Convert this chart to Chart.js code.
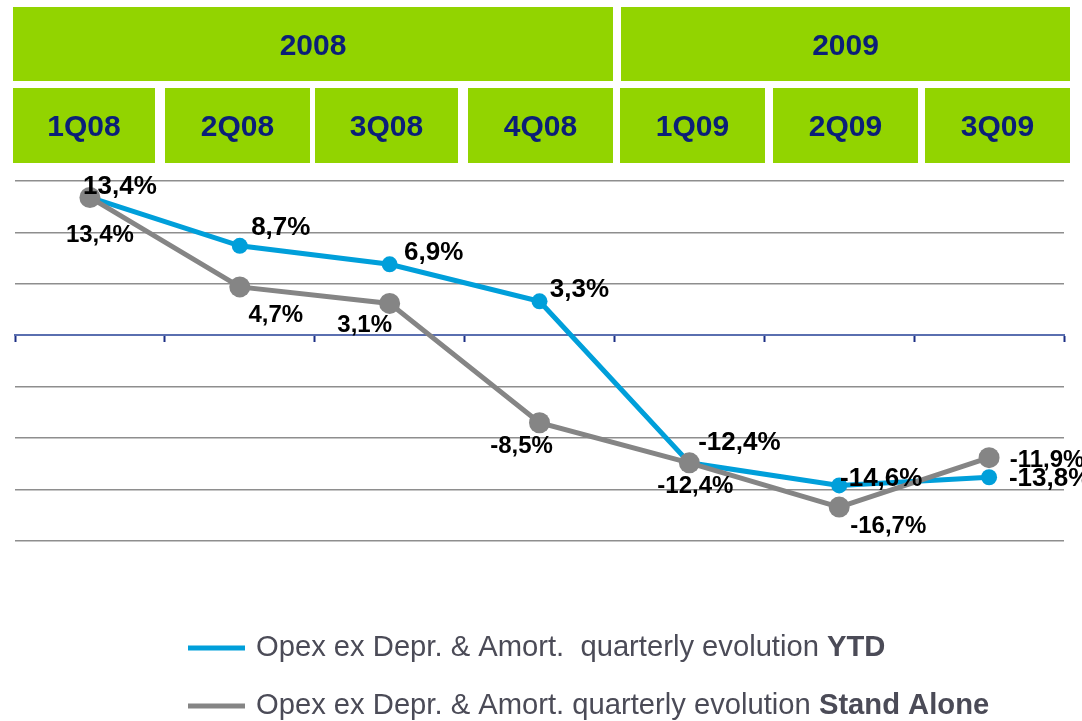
<!DOCTYPE html>
<html>
<head>
<meta charset="utf-8">
<script src="https://cdn.jsdelivr.net/npm/chart.js@4/dist/chart.umd.min.js"></script>
<style>
  html, body { margin: 0; padding: 0; background: #ffffff; }
  #wrap { width: 1082px; height: 721px; position: relative; }
</style>
</head>
<body>
<div id="wrap"><canvas id="c" width="1082" height="721"></canvas></div>
<script>
// ---- Data ----
const categories = ['1Q08', '2Q08', '3Q08', '4Q08', '1Q09', '2Q09', '3Q09'];
const years = ['2008', '2009'];
const ytdValues = [13.4, 8.7, 6.9, 3.3, -12.4, -14.6, -13.8];
const standAloneValues = [13.4, 4.7, 3.1, -8.5, -12.4, -16.7, -11.9];
const yMin = -20;
const yMax = 15;
const yStep = 5;
const legendYTD = [['Opex ex Depr. & Amort.  quarterly evolution ', false], ['YTD', true]];
const legendSA = [['Opex ex Depr. & Amort. quarterly evolution ', false], ['Stand Alone', true]];

// ---- Layout / style (not data) ----
const GREEN = '#92d400';
const NAVY = '#0b1f78';
const BLUE = '#009fda';
const GREY = '#858585';
const yearBoxes = [[13, 613], [621, 1070]];          // x left/right
const quarterBoxes = [[13, 155], [165, 310], [315, 458], [468, 613], [620, 765], [773, 918], [925, 1070]];
const ytdLabelOffsets = [[30, -11], [41, -18], [44, -11], [40, -12], [50, -20], [42, -7], [61, 2]];
const saLabelOffsets = [[10, 38], [36, 28], [-25, 22], [-18, 24], [6, 24], [49, 19], [58, 3]];

const fmt = v => v.toFixed(1).replace('.', ',') + '%';

const decorPlugin = {
  id: 'decor',
  beforeDraw(chart) {
    const ctx = chart.ctx;
    ctx.save();
    ctx.fillStyle = GREEN;
    yearBoxes.forEach(b => ctx.fillRect(b[0], 7, b[1] - b[0], 74));
    quarterBoxes.forEach(b => ctx.fillRect(b[0], 88, b[1] - b[0], 75));
    ctx.fillStyle = NAVY;
    ctx.font = 'bold 30px "Liberation Sans", Arial, sans-serif';
    ctx.textAlign = 'center';
    ctx.textBaseline = 'middle';
    years.forEach((y, i) => ctx.fillText(y, (yearBoxes[i][0] + yearBoxes[i][1]) / 2, 46.5));
    categories.forEach((q, i) => ctx.fillText(q, (quarterBoxes[i][0] + quarterBoxes[i][1]) / 2, 128));
    ctx.restore();
  },
  afterDatasetsDraw(chart) {
    const ctx = chart.ctx;
    ctx.save();
    ctx.fillStyle = '#000000';
    ctx.textAlign = 'center';
    ctx.textBaseline = 'middle';
    const metaYTD = chart.getDatasetMeta(0);
    const metaSA = chart.getDatasetMeta(1);
    ctx.font = 'bold 24px "Liberation Sans", Arial, sans-serif';
    metaSA.data.forEach((pt, i) => {
      ctx.fillText(fmt(standAloneValues[i]), pt.x + saLabelOffsets[i][0], pt.y + saLabelOffsets[i][1]);
    });
    ctx.font = 'bold 26px "Liberation Sans", Arial, sans-serif';
    metaYTD.data.forEach((pt, i) => {
      ctx.fillText(fmt(ytdValues[i]), pt.x + ytdLabelOffsets[i][0], pt.y + ytdLabelOffsets[i][1]);
    });

    // legend
    const drawLegend = (parts, color, ly, baseline) => {
      ctx.fillStyle = color;
      ctx.fillRect(188, ly - 2.5, 57, 5);
      let x = 256;
      ctx.textAlign = 'left';
      ctx.textBaseline = 'alphabetic';
      ctx.fillStyle = '#4b4b57';
      parts.forEach(p => {
        ctx.font = (p[1] ? 'bold ' : '') + '29.2px "Liberation Sans", Arial, sans-serif';
        ctx.fillText(p[0], x, baseline);
        x += ctx.measureText(p[0]).width;
      });
    };
    drawLegend(legendYTD, BLUE, 648, 656);
    drawLegend(legendSA, GREY, 706, 714);
    ctx.restore();
  }
};

new Chart(document.getElementById('c'), {
  type: 'line',
  data: {
    labels: categories,
    datasets: [
      {
        label: 'YTD',
        data: ytdValues,
        borderColor: BLUE,
        backgroundColor: BLUE,
        borderWidth: 5,
        pointRadius: 8,
        pointBorderWidth: 0,
        pointBackgroundColor: BLUE,
        tension: 0,
        order: 2
      },
      {
        label: 'Stand Alone',
        data: standAloneValues,
        borderColor: GREY,
        backgroundColor: GREY,
        borderWidth: 5,
        pointRadius: 10.5,
        pointBorderWidth: 0,
        pointBackgroundColor: GREY,
        tension: 0,
        order: 1
      }
    ]
  },
  options: {
    responsive: false,
    animation: false,
    devicePixelRatio: 1,
    layout: { padding: { left: 15, right: 18, top: 181, bottom: 180 } },
    plugins: { legend: { display: false }, tooltip: { enabled: false } },
    scales: {
      x: {
        type: 'category',
        position: { y: 0 },
        offset: true,
        grid: {
          offset: true,
          drawOnChartArea: false,
          drawTicks: true,
          tickLength: 6,
          tickColor: '#1c2f85',
          tickWidth: 2
        },
        border: { display: true, color: '#5a6fb0', width: 2 },
        ticks: { display: false }
      },
      y: {
        min: yMin,
        max: yMax,
        ticks: { display: false, stepSize: yStep },
        border: { display: false },
        grid: {
          drawTicks: false,
          color: ctx => (ctx.tick && ctx.tick.value === 0) ? 'rgba(0,0,0,0)' : '#8e8e8e',
          lineWidth: 1.5
        },
        afterFit: s => { s.width = 0; }
      }
    }
  },
  plugins: [decorPlugin]
});
</script>
</body>
</html>
